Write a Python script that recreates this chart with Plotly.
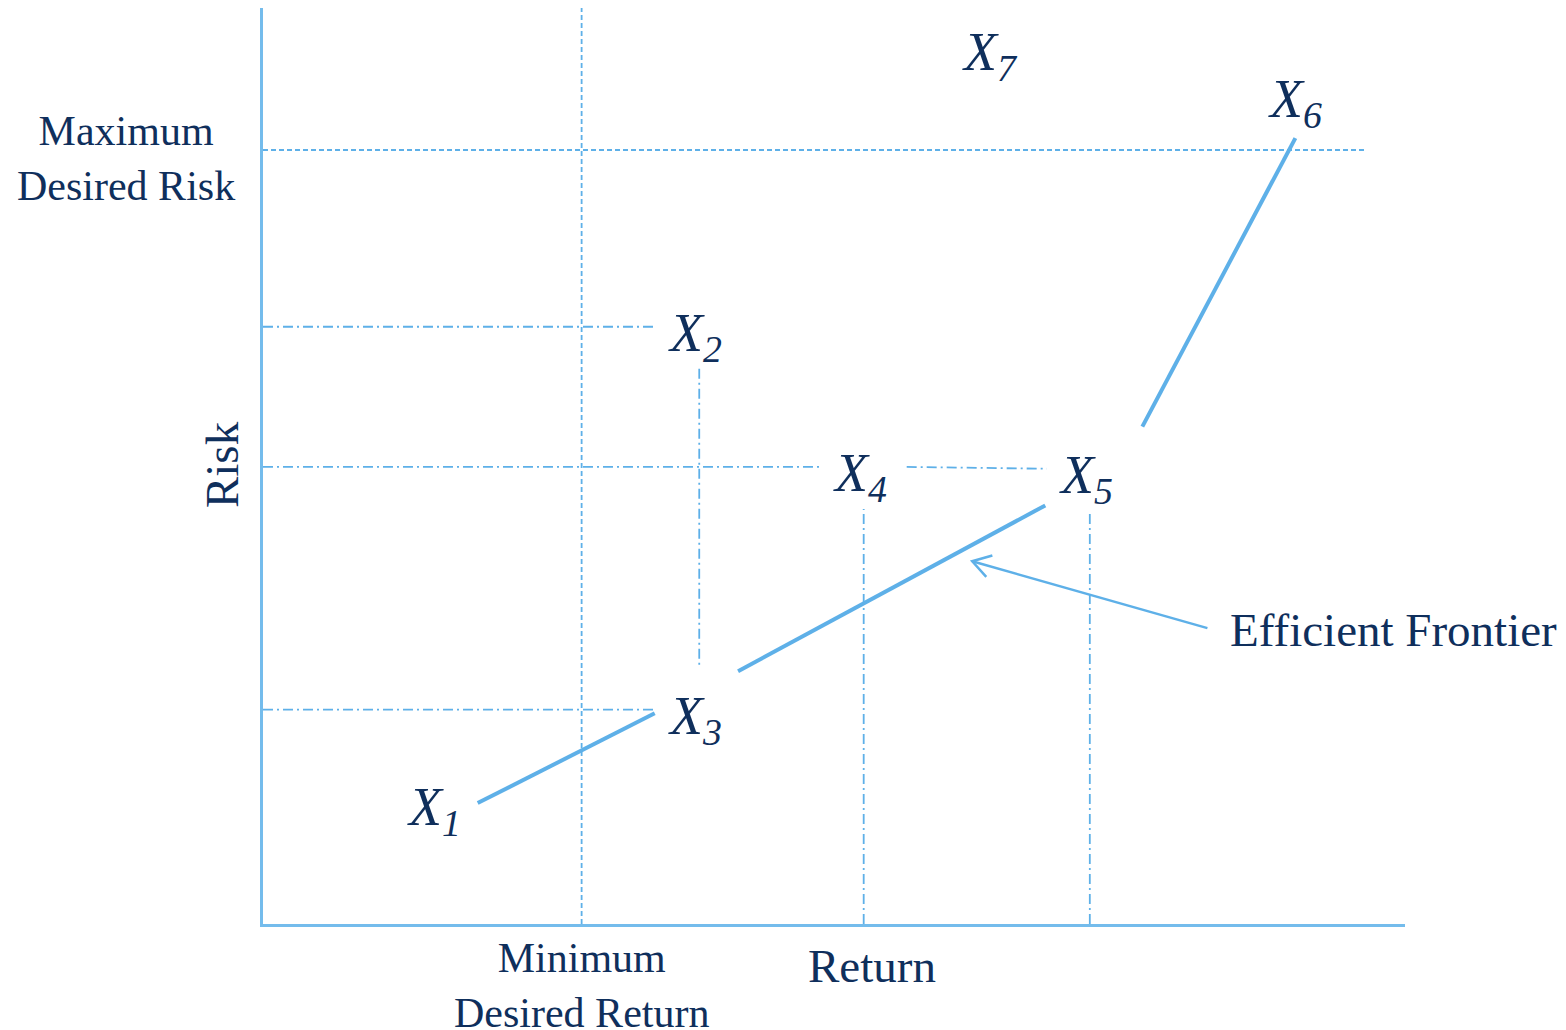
import math
import plotly.graph_objects as go

# Candidate portfolios: expected return vs. risk (both on a 0-100 scale)
portfolio_names = ["X1", "X2", "X3", "X4", "X5", "X6", "X7"]
portfolio_return = [15.3, 38.2, 38.2, 52.6, 72.4, 90.7, 64.0]
portfolio_risk = [13.5, 65.2, 23.4, 49.9, 49.7, 90.8, 95.9]

# Investor constraints
min_desired_return = 27.9
max_desired_risk = 84.5
max_risk_line_end = 96.6

# Efficient frontier, drawn in pieces that stop short of the labels
frontier_start_return = [18.8, 41.6, 77.0]
frontier_start_risk = [13.2, 27.6, 54.3]
frontier_end_return = [34.3, 68.5, 90.4]
frontier_end_risk = [23.0, 45.7, 85.8]

# Callout arrow pointing at the frontier
arrow_tail = (82.7, 32.3)
arrow_head = (62.1, 39.6)

LINE = "#5eb0e8"
AXIS = "#74bcec"
TEXT = "#0f2f5c"
FONT = "Liberation Serif, Times New Roman, serif"

W, H = 1566, 1030
ML, MR, MT, MB = 263, 161, 8, 106
px_x = (W - ML - MR) / 100.0
px_y = (H - MT - MB) / 100.0
gap_x = 43 / px_x
gap_y = 42 / px_y

P = dict(zip(portfolio_names, zip(portfolio_return, portfolio_risk)))

fig = go.Figure()


def seg(x0, y0, x1, y1, dash, width=1.8):
    fig.add_trace(go.Scatter(x=[x0, x1], y=[y0, y1], mode="lines",
                             line=dict(color=LINE, width=width, dash=dash),
                             hoverinfo="skip", showlegend=False))


DASHDOT = "10px,4px,2px,4px"
DASH = "5px,3px"

# Constraint lines
seg(min_desired_return, 0, min_desired_return, 100, DASH)
seg(0, max_desired_risk, max_risk_line_end, max_desired_risk, DASH)

# Guide lines from portfolios to the axes
r2, k2 = P["X2"]
r3, k3 = P["X3"]
r4, k4 = P["X4"]
r5, k5 = P["X5"]
seg(0, k2, r2 - gap_x, k2, DASHDOT)
seg(r2, k2 - gap_y, r2, k3 + gap_y, DASHDOT)
seg(0, k3, r3 - gap_x, k3, DASHDOT)
seg(0, k4, r4 - gap_x, k4, DASHDOT)
seg(r4 + gap_x, k4, r5 - gap_x, k5, DASHDOT)
seg(r4, 0, r4, k4 - gap_y, DASHDOT)
seg(r5, 0, r5, k5 - gap_y, DASHDOT)

# Efficient frontier
for xs, ys, xe, ye in zip(frontier_start_return, frontier_start_risk,
                          frontier_end_return, frontier_end_risk):
    seg(xs, ys, xe, ye, "solid", width=4)

# Callout arrow with an open head
seg(arrow_tail[0], arrow_tail[1], arrow_head[0], arrow_head[1], "solid", width=2.5)
dx = (arrow_tail[0] - arrow_head[0]) * px_x
dy = (arrow_tail[1] - arrow_head[1]) * px_y
ang = math.atan2(dy, dx)
barb_len, spread = 21, math.radians(32)
bx, by = [], []
for s in (spread, -spread):
    bx.append(arrow_head[0] + barb_len * math.cos(ang + s) / px_x)
    by.append(arrow_head[1] + barb_len * math.sin(ang + s) / px_y)
fig.add_trace(go.Scatter(x=[bx[0], arrow_head[0], bx[1]], y=[by[0], arrow_head[1], by[1]],
                         mode="lines", line=dict(color=LINE, width=2.5),
                         hoverinfo="skip", showlegend=False))

# Portfolio labels
for name, (r, k) in P.items():
    fig.add_annotation(x=r, y=k, text=f"<i>X<sub>{name[1:]}</sub></i>",
                       showarrow=False, xanchor="center", yanchor="middle",
                       xshift=-4, yshift=-10,
                       font=dict(family=FONT, size=54, color=TEXT))


def paper_label(x, y, text, size, **kw):
    # x, y given on the 0-100 axis scale; paper refs let labels sit outside the plot
    fig.add_annotation(x=x / 100.0, y=y / 100.0, xref="paper", yref="paper",
                       text=text, showarrow=False, yanchor="middle",
                       font=dict(family=FONT, size=size, color=TEXT), **kw)


# Axis and constraint labels
paper_label(-12.0, 83.6, "Maximum<br>Desired Risk", 42, xanchor="center", align="center")
paper_label(min_desired_return, -6.7, "Minimum<br>Desired Return", 42,
            xanchor="center", align="center")
paper_label(53.3, -4.6, "Return", 47, xanchor="center")
paper_label(-3.6, 50.2, "Risk", 47, xanchor="center", textangle=-90)
paper_label(84.5, 32.1, "Efficient Frontier", 47, xanchor="left")

axis_common = dict(range=[0, 100], showgrid=False, zeroline=False, showticklabels=False,
                   ticks="", showline=True, linecolor=AXIS, linewidth=2.5, fixedrange=True)
fig.update_layout(
    width=W, height=H,
    margin=dict(l=ML, r=MR, t=MT, b=MB),
    plot_bgcolor="white", paper_bgcolor="white",
    xaxis=axis_common, yaxis=axis_common,
    showlegend=False,
)

fig.write_html("out.html")
